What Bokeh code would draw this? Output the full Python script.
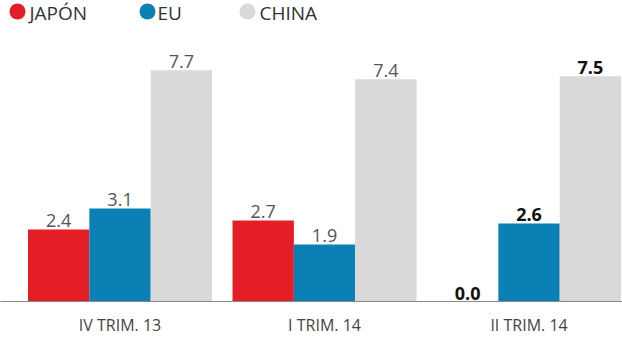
from bokeh.plotting import figure
from bokeh.models import ColumnDataSource, FixedTicker, Range1d, Legend, LegendItem, Label
from bokeh.core.properties import value
from bokeh.embed import file_html
from bokeh.resources import INLINE

quarters = ["IV TRIM. 13", "I TRIM. 14", "II TRIM. 14"]
series = ["JAPÓN", "EU", "CHINA"]
japon = [2.4, 2.7, 0.0]
eu = [3.1, 1.9, 2.6]
china = [7.7, 7.4, 7.5]
colors = ["#e31e26", "#0a80b5", "#d9d9d9"]
bold_group = [False, False, True]

p = figure(width=622, height=338, output_backend="svg", toolbar_location=None,
           x_range=Range1d(-0.5844, 2.457), y_range=Range1d(0, 10.02),
           min_border_left=0, min_border_right=0, min_border_top=0, min_border_bottom=31)
p.outline_line_color = None
p.xgrid.visible = False
p.ygrid.visible = False
p.yaxis.visible = False

width = 0.3
offsets = [-0.3, 0.0, 0.3]
renderers = []
for s, vals, col, off in zip(series, [japon, eu, china], colors, offsets):
    xs = [i + off for i in range(len(quarters))]
    src = ColumnDataSource(dict(
        x=xs, top=vals,
        label=[f"{v:.1f}" for v in vals],
        style=["bold" if b else "normal" for b in bold_group],
        color=["#111111" if b else "#555555" for b in bold_group],
    ))
    p.vbar(x="x", top="top", width=width, bottom=0, source=src,
           fill_color=col, line_color=None)
    p.text(x="x", y="top", text="label", source=src, text_align="center",
           text_baseline="bottom", y_offset=-2, text_font=value("Open Sans"),
           text_font_size="18px", text_font_style="style", text_color="color")
    r = p.scatter(x=[0], y=[-5], size=16, marker="circle", fill_color=col, line_color=None)
    renderers.append(r)

# legend markers (Bokeh legends, no text) + series names as labels
legend_x = [-3.5, 127, 227]
label_x = [29, 157, 259]
for s, r, lx, tx in zip(series, renderers, legend_x, label_x):
    lg = Legend(items=[LegendItem(label="", renderers=[r])],
                orientation="horizontal", location=(lx, 270.5),
                label_text_font_size="1px", glyph_width=40, glyph_height=40,
                label_standoff=0, label_width=0, padding=0, margin=0,
                border_line_color=None, background_fill_alpha=0)
    p.add_layout(lg)
    p.add_layout(Label(x=tx, y=302, x_units="screen", y_units="screen", text=s,
                       text_font="Open Sans", text_font_size="19px",
                       text_color="#333333", text_baseline="top", text_align="left"))

p.xaxis.ticker = FixedTicker(ticks=[0, 1, 2])
p.xaxis.major_label_overrides = {i: q for i, q in enumerate(quarters)}
p.xaxis.major_tick_line_color = None
p.xaxis.minor_tick_line_color = None
p.xaxis.axis_line_color = "#888888"
p.xaxis.major_label_text_font = "Open Sans"
p.xaxis.major_label_text_font_size = "16px"
p.xaxis.major_label_text_color = "#444444"
p.xaxis.major_label_standoff = 6

open("out.html", "w").write(file_html(p, INLINE))
